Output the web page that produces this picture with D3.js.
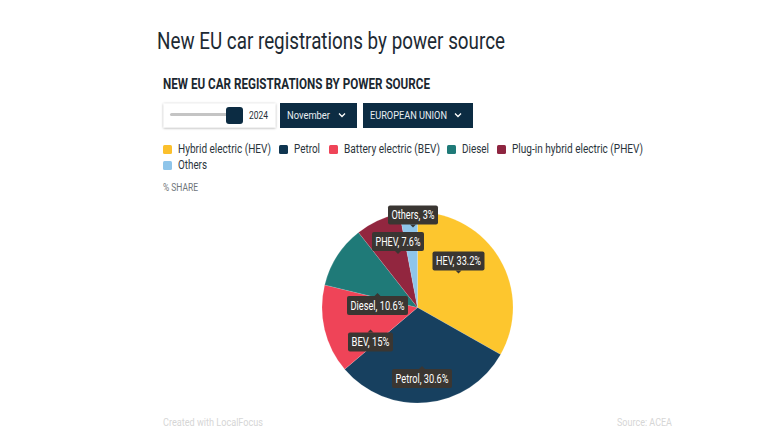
<!DOCTYPE html>
<html><head><meta charset="utf-8">
<script src="https://cdnjs.cloudflare.com/ajax/libs/d3/7.8.5/d3.min.js"></script>
<style>html,body{margin:0;background:#fff}svg{display:block}text{font-family:Roboto,sans-serif}</style>
</head><body><svg id="c" width="760" height="427"></svg>
<script>
const categories=["Hybrid electric (HEV)","Petrol","Battery electric (BEV)","Diesel","Plug-in hybrid electric (PHEV)","Others"];
const shortNames=["HEV","Petrol","BEV","Diesel","PHEV","Others"];
const values=[33.2,30.6,15,10.6,7.6,3];
const colors=["#fdc62e","#17405f","#ef4458","#1f7a78","#92263f","#8fc5ea"];
const legendColors=["#fbc02d","#0f3550","#ef4458","#1f7a78","#8e2540","#8fc5ea"];

const svg=d3.select("#c");
function txt(x,y,s,size,fill,w,weight){
  const t=svg.append("text").attr("x",x).attr("y",y).attr("font-size",size).attr("fill",fill).text(s);
  if(weight)t.attr("font-weight",weight);
  if(w)t.attr("textLength",w).attr("lengthAdjust","spacingAndGlyphs");
  return t;
}
txt(157,49,"New EU car registrations by power source",23,"#1d2a33",348,400);
txt(163,89,"NEW EU CAR REGISTRATIONS BY POWER SOURCE",14,"#1b2730",267,700);

// controls
const defs=svg.append("defs");
const f=defs.append("filter").attr("id","sh").attr("x","-10%").attr("y","-20%").attr("width","120%").attr("height","140%");
f.append("feDropShadow").attr("dx",0).attr("dy",0.5).attr("stdDeviation",1).attr("flood-color","#000").attr("flood-opacity",.4);
svg.append("rect").attr("x",163.5).attr("y",103.5).attr("width",112).attr("height",24).attr("fill","#fff").attr("filter","url(#sh)");
svg.append("rect").attr("x",170).attr("y",113).attr("width",58).attr("height",3).attr("rx",1.5).attr("fill","#c4c4c4");
svg.append("rect").attr("x",226).attr("y",107).attr("width",17).attr("height",17).attr("rx",3).attr("fill","#0c2c43");
txt(249,119,"2024",11,"#26323a",19);
function dropdown(x,w,label,tw){
  svg.append("rect").attr("x",x).attr("y",103).attr("width",w).attr("height",25).attr("fill","#0c2c43");
  txt(x+7,119,label,11,"#e8eef2",tw);
  const cx=x+w-15;
  svg.append("path").attr("d",d3.line()([[cx-3,113.5],[cx,116.5],[cx+3,113.5]])).attr("fill","none").attr("stroke","#fff").attr("stroke-width",1.3);
}
dropdown(280,77,"November",43);
dropdown(363,110,"EUROPEAN UNION",77);

// legend
const legendX=[163,279,329,447,497,163], legendTextW=[93,26,96,27,131,29], legendY=[145,145,145,145,145,161];
categories.forEach((c,i)=>{
  svg.append("rect").attr("x",legendX[i]).attr("y",legendY[i]).attr("width",9).attr("height",9).attr("rx",1.5).attr("fill",legendColors[i]);
  txt(legendX[i]+15,legendY[i]+8,c,12,"#2a343b",legendTextW[i]);
});
txt(163,191,"% SHARE",10,"#6f7579",35);

// pie
const cx=417.5,cy=307.5,R=95.5;
const arcs=d3.pie().sort(null).value(d=>d)(values);
const arc=d3.arc().innerRadius(0).outerRadius(R);
const g=svg.append("g").attr("transform",`translate(${cx},${cy})`);
g.selectAll("path").data(arcs).join("path").attr("d",arc).attr("fill",(d,i)=>colors[i]).attr("stroke","#fff").attr("stroke-opacity",.25).attr("stroke-width",.5);

// tooltips: box centre relative to pie centre, pointer side
const boxCentre=[[41,-46.5],[4.5,71],[-47,34.5],[-40,-2],[-19.5,-66],[-4.5,-92.5]];
const boxW=[52,60,45,61,52,50];
const pointer=[1,-1,-1,-1,1,1];
arcs.forEach((a,i)=>{
  const [bx,by]=boxCentre[i],w=boxW[i],h=19;
  const l=g.append("g").attr("transform",`translate(${bx},${by})`);
  l.append("path").attr("d",d3.line()([[-3,pointer[i]*h/2],[0,pointer[i]*(h/2+3)],[3,pointer[i]*h/2]])).attr("fill","#3a3632");
  l.append("rect").attr("x",-w/2).attr("y",-h/2).attr("width",w).attr("height",h).attr("rx",2).attr("fill","#3a3632");
  l.append("text").attr("text-anchor","middle").attr("y",4).attr("font-size",12).attr("fill","#fff")
   .attr("textLength",w-7).attr("lengthAdjust","spacingAndGlyphs").text(`${shortNames[i]}, ${values[i]}%`);
});

// footer
txt(163,426,"Created with LocalFocus",10,"#d6d6d6",100);
txt(617,426,"Source: ACEA",10,"#d6d6d6",55);
</script></body></html>
